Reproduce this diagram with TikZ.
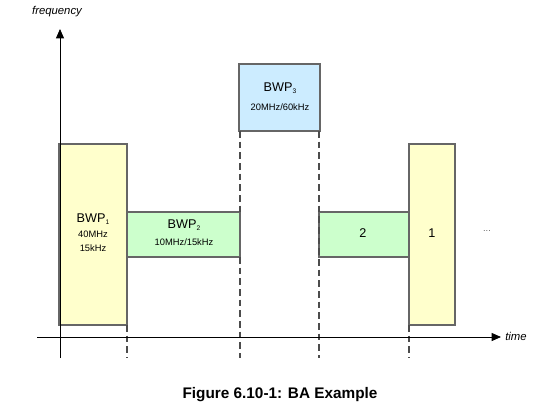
\documentclass[tikz,border=0pt]{standalone}
\usepackage{fontspec}
\setmainfont{Liberation Sans}
\usetikzlibrary{arrows.meta}
\definecolor{byel}{HTML}{FFFFCC}
\definecolor{bgrn}{HTML}{CCFFCC}
\definecolor{bblu}{HTML}{CCECFF}
\definecolor{edge}{HTML}{666666}
\newcommand{\lowsub}[1]{\raisebox{-0.35ex}{\fontsize{5pt}{6pt}\selectfont #1}}
\begin{document}
\begin{tikzpicture}[x=0.75pt,y=-0.75pt,
  bwp/.style={draw=edge,line width=1.2pt},
  axis/.style={draw=black,line width=0.6pt,-{Triangle[length=7pt,width=6pt]}},
  guide/.style={draw=black!70,dashed,dash pattern=on 5pt off 3pt,line width=0.9pt},
  big/.style={font=\fontsize{9.5pt}{11pt}\selectfont},
  small/.style={font=\fontsize{7pt}{10.5pt}\selectfont,align=center},
  lbl/.style={font=\fontsize{8.5pt}{10pt}\selectfont\itshape}]
\useasboundingbox (0,0) rectangle (538,404);
% boxes
\draw[bwp,fill=bgrn] (127,212) rectangle (240,257);
\draw[bwp,fill=bgrn] (319,212) rectangle (409,257);
\draw[bwp,fill=byel] (59,144) rectangle (127,325);
\draw[bwp,fill=byel] (409,144) rectangle (455,325);
\draw[bwp,fill=bblu] (239,64) rectangle (320,131);
% guides
\draw[guide] (127,325) -- (127,358);
\draw[guide] (240,131) -- (240,212);
\draw[guide] (240,257) -- (240,358);
\draw[guide] (319,131) -- (319,358);
\draw[guide] (409,325) -- (409,358);
% axes
\coordinate (ybot) at (60,358);
\coordinate (ytop) at (60,29);
\coordinate (xl) at (37,337);
\coordinate (xr) at (501,337);
\draw[axis] (ybot) -- (ytop);
\draw[axis] (xl) -- (xr);
\node[lbl] (freq) at (57,12) {frequency};
\node[lbl] (time) at (516,336) {time};
% texts
\node[big] (b1) at (93,219) {BWP\lowsub{1}};
\node[small] (b1s) at (93,241) {40MHz\\15kHz};
\node[big] (b2) at (184,225) {BWP\lowsub{2}};
\node[small] (b2s) at (184,242) {10MHz/15kHz};
\node[big] (b3) at (280,88) {BWP\lowsub{3}};
\node[small] (b3s) at (280,107) {20MHz/60kHz};
\node[big] (t2) at (363,233) {2};
\node[big] (t1) at (432,233) {1};
\node[font=\fontsize{7pt}{8pt}\selectfont,text=black!60] (dots) at (487,231) {...};
\node[font=\bfseries\fontsize{11.5pt}{13pt}\selectfont] (cap) at (280,395) {Figure 6.10-1: BA Example};
\end{tikzpicture}
\end{document}
